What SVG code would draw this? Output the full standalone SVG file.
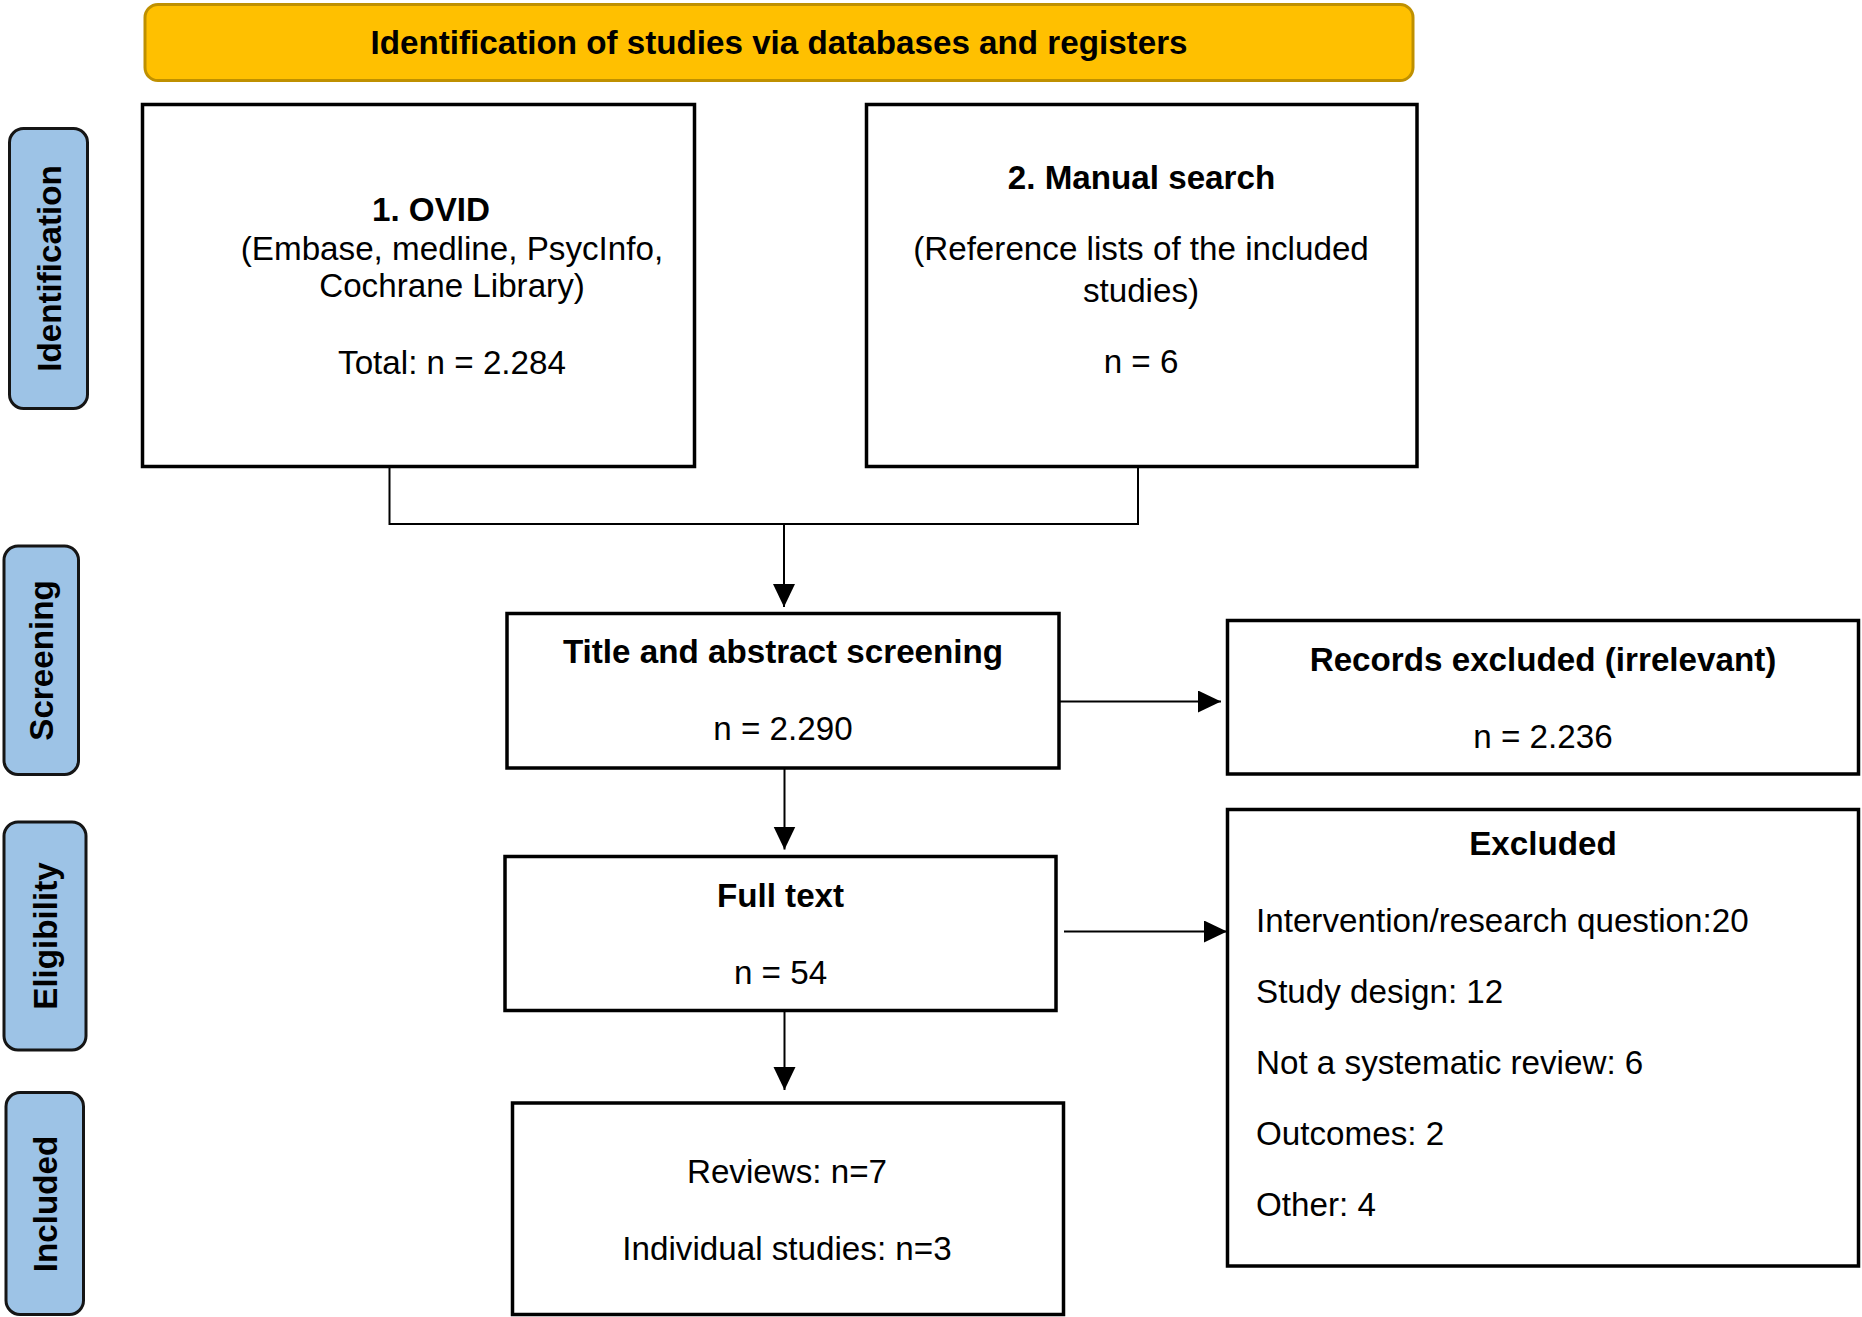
<svg xmlns="http://www.w3.org/2000/svg" width="1862" height="1317" viewBox="0 0 1862 1317">
<defs>
<style>
text{font-family:"Liberation Sans",Arial,sans-serif;font-size:33.2px;fill:#000}
.b{font-weight:bold}
.box{fill:#fff;stroke:#000;stroke-width:3.5}
.side{fill:#9DC3E6;stroke:#151515;stroke-width:3}
.conn{fill:none;stroke:#000;stroke-width:2}
</style>
<marker id="ah" markerUnits="userSpaceOnUse" markerWidth="24" markerHeight="24" refX="23" refY="11" orient="auto">
<path d="M0,0 L23,11 L0,22 z" fill="#000"/>
</marker>
</defs>
<rect width="1862" height="1317" fill="#fff"/>

<g id="banner">
<rect x="145" y="4.5" width="1268" height="76" rx="13" fill="#FFC000" stroke="#BF9000" stroke-width="3"/>
<text class="b" x="779" y="53.5" text-anchor="middle">Identification of studies via databases and registers</text>
</g>

<g id="label-identification">
<rect class="side" x="9.5" y="128.5" width="78" height="280" rx="14"/>
<text class="b" transform="translate(60.5,268.5) rotate(-90)" text-anchor="middle">Identification</text>
</g>
<g id="label-screening">
<rect class="side" x="4" y="546" width="74.5" height="228.5" rx="14"/>
<text class="b" transform="translate(53,660.5) rotate(-90)" text-anchor="middle">Screening</text>
</g>
<g id="label-eligibility">
<rect class="side" x="4" y="822" width="82" height="228" rx="14"/>
<text class="b" transform="translate(57,936) rotate(-90)" text-anchor="middle">Eligibility</text>
</g>
<g id="label-included">
<rect class="side" x="6" y="1092.5" width="77.5" height="222" rx="14"/>
<text class="b" transform="translate(56.5,1204) rotate(-90)" text-anchor="middle">Included</text>
</g>

<g id="ovid">
<rect class="box" x="142.5" y="104.5" width="552" height="362"/>
<text class="b" x="431" y="221" text-anchor="middle">1. OVID</text>
<text x="452" y="260" text-anchor="middle">(Embase, medline, PsycInfo,</text>
<text x="452" y="297" text-anchor="middle">Cochrane Library)</text>
<text x="452" y="374" text-anchor="middle">Total: n = 2.284</text>
</g>

<g id="manual">
<rect class="box" x="866.5" y="104.5" width="550.5" height="362"/>
<text class="b" x="1141.5" y="189" text-anchor="middle">2. Manual search</text>
<text x="1141" y="259.5" text-anchor="middle">(Reference lists of the included</text>
<text x="1141" y="302" text-anchor="middle">studies)</text>
<text x="1141" y="373" text-anchor="middle">n = 6</text>
</g>

<g id="screening">
<rect class="box" x="507" y="613.5" width="552" height="154.5"/>
<text class="b" x="783" y="663" text-anchor="middle">Title and abstract screening</text>
<text x="783" y="740" text-anchor="middle">n = 2.290</text>
</g>

<g id="records-excluded">
<rect class="box" x="1227.5" y="620.5" width="631" height="153.5"/>
<text class="b" x="1543" y="671" text-anchor="middle">Records excluded (irrelevant)</text>
<text x="1543" y="747.5" text-anchor="middle">n = 2.236</text>
</g>

<g id="fulltext">
<rect class="box" x="505" y="856.5" width="551" height="154"/>
<text class="b" x="780.5" y="906.5" text-anchor="middle">Full text</text>
<text x="780.5" y="984" text-anchor="middle">n = 54</text>
</g>

<g id="excluded">
<rect class="box" x="1227.5" y="809.5" width="631" height="456.5"/>
<text class="b" x="1543" y="855" text-anchor="middle">Excluded</text>
<text x="1256" y="932">Intervention/research question:20</text>
<text x="1256" y="1003">Study design: 12</text>
<text x="1256" y="1074">Not a systematic review: 6</text>
<text x="1256" y="1145">Outcomes: 2</text>
<text x="1256" y="1216">Other: 4</text>
</g>

<g id="included">
<rect class="box" x="512.5" y="1103" width="551" height="211.5"/>
<text x="787" y="1183" text-anchor="middle">Reviews: n=7</text>
<text x="787" y="1260" text-anchor="middle">Individual studies: n=3</text>
</g>

<g id="connectors">
<path class="conn" d="M389.5,466.5 V524 H1138 V466.5"/>
<path class="conn" d="M784,524 V607" marker-end="url(#ah)"/>
<path class="conn" d="M1059,701.5 H1221" marker-end="url(#ah)"/>
<path class="conn" d="M784.5,768 V849.5" marker-end="url(#ah)"/>
<path class="conn" d="M1064,931.5 H1227" marker-end="url(#ah)"/>
<path class="conn" d="M784.5,1010.5 V1090" marker-end="url(#ah)"/>
</g>
</svg>
